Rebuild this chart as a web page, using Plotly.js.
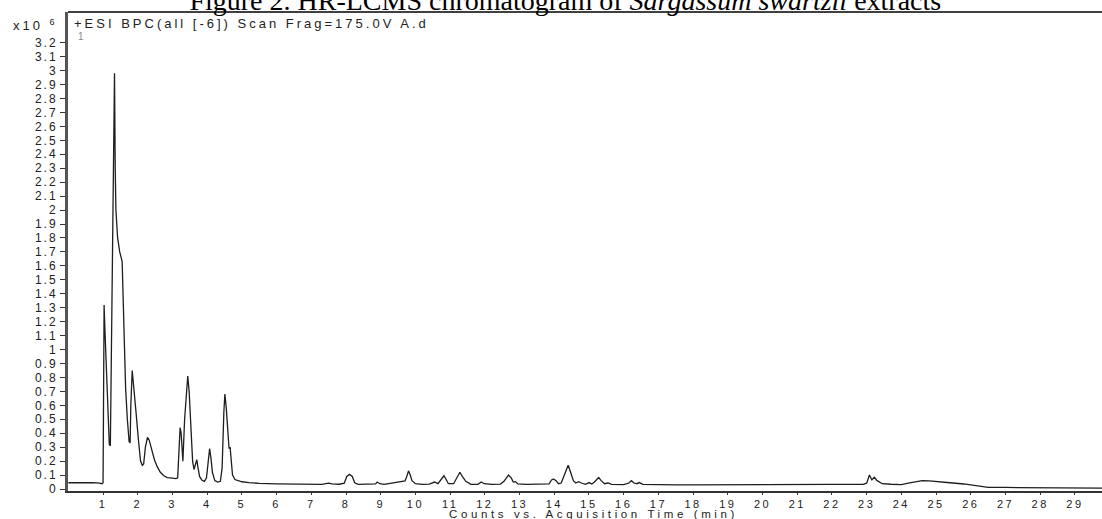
<!DOCTYPE html>
<html>
<head>
<meta charset="utf-8">
<script src="https://cdn.plot.ly/plotly-3.0.1.min.js"></script>
<style>
  html, body { margin: 0; padding: 0; background: #fff; }
  #chart { width: 1102px; height: 519px; }
  .xtick text { letter-spacing: 2.5px; }
  .ytick text { letter-spacing: 2px; }
  .annotation-text { letter-spacing: 3px; }
  .annotation[data-index="3"] .annotation-text { letter-spacing: 3.6px; }
</style>
</head>
<body>
<div id="chart"></div>
<script>
// Acquisition time (min)
const timeMin = [
  0.0, 0.3, 0.5, 0.7, 0.9, 0.97, 1.0, 1.03, 1.06, 1.12, 1.18, 1.21, 1.25, 1.30, 1.33, 1.35, 1.37, 1.42, 1.48, 1.55,
  1.60, 1.65, 1.70, 1.75, 1.78, 1.80, 1.84, 1.88, 1.95, 2.02, 2.08, 2.13, 2.17, 2.22, 2.28, 2.33, 2.40, 2.48, 2.56, 2.65,
  2.75, 2.85, 3.0, 3.1, 3.15, 3.19, 3.22, 3.25, 3.28, 3.30, 3.35, 3.40, 3.44, 3.48, 3.53, 3.58, 3.62, 3.65, 3.70, 3.73,
  3.78, 3.85, 3.92, 3.98, 4.03, 4.07, 4.11, 4.15, 4.22, 4.30, 4.38, 4.43, 4.48, 4.51, 4.55, 4.60, 4.63, 4.66, 4.69, 4.73,
  4.80, 4.9, 5.0, 5.2, 5.5, 6.0, 6.5, 7.0, 7.3, 7.5, 7.6, 7.8, 7.95, 8.02, 8.1, 8.18, 8.25, 8.35, 8.6, 8.85,
  8.9, 8.97, 9.1, 9.3, 9.5, 9.7, 9.75, 9.8, 9.85, 9.9, 10.0, 10.2, 10.4, 10.55, 10.65, 10.75, 10.82, 10.88, 10.95, 11.1,
  11.2, 11.28, 11.35, 11.45, 11.6, 11.8, 11.9, 11.98, 12.2, 12.45, 12.55, 12.68, 12.76, 12.82, 12.88, 12.95, 13.2, 13.6, 13.85, 13.92,
  13.98, 14.05, 14.12, 14.2, 14.3, 14.4, 14.47, 14.55, 14.62, 14.7, 14.78, 14.9, 15.0, 15.08, 15.15, 15.28, 15.35, 15.45, 15.55, 15.65,
  16.0, 16.15, 16.22, 16.3, 16.38, 16.45, 16.55, 17.0, 17.5, 18.0, 18.5, 19.0, 19.5, 19.8, 20.0, 20.5, 21.0, 21.5, 22.0, 22.5,
  22.9, 23.0, 23.08, 23.15, 23.22, 23.3, 23.45, 23.7, 24.0, 24.2, 24.4, 24.6, 24.8, 25.0, 25.4, 25.8, 26.2, 26.5, 27.0, 27.5,
  28.0, 28.15, 28.5, 29.0, 29.8
];
// Counts (x10^6)
const countsM = [
  0.045, 0.046, 0.044, 0.046, 0.042, 0.038, 0.045, 1.32, 1.10, 0.70, 0.32, 0.31, 1.20, 2.60, 2.98, 2.30, 2.00, 1.80, 1.70, 1.63,
  1.20, 0.72, 0.50, 0.34, 0.33, 0.60, 0.85, 0.72, 0.55, 0.35, 0.20, 0.17, 0.18, 0.30, 0.37, 0.35, 0.28, 0.21, 0.16, 0.12,
  0.095, 0.082, 0.078, 0.075, 0.080, 0.30, 0.44, 0.40, 0.24, 0.20, 0.50, 0.72, 0.81, 0.70, 0.45, 0.20, 0.14, 0.17, 0.21, 0.16,
  0.09, 0.063, 0.055, 0.08, 0.22, 0.29, 0.22, 0.12, 0.06, 0.05, 0.055, 0.15, 0.55, 0.68, 0.58, 0.40, 0.29, 0.30, 0.22, 0.10,
  0.068, 0.058, 0.052, 0.046, 0.040, 0.037, 0.035, 0.034, 0.033, 0.042, 0.037, 0.034, 0.042, 0.09, 0.105, 0.09, 0.045, 0.033, 0.033, 0.036,
  0.05, 0.038, 0.033, 0.043, 0.053, 0.058, 0.09, 0.13, 0.10, 0.06, 0.038, 0.033, 0.035, 0.05, 0.038, 0.07, 0.095, 0.07, 0.038, 0.038,
  0.08, 0.12, 0.09, 0.055, 0.033, 0.033, 0.05, 0.038, 0.033, 0.035, 0.055, 0.10, 0.08, 0.05, 0.053, 0.036, 0.033, 0.033, 0.036, 0.065,
  0.072, 0.06, 0.038, 0.043, 0.10, 0.17, 0.12, 0.06, 0.043, 0.053, 0.043, 0.033, 0.046, 0.036, 0.048, 0.082, 0.06, 0.038, 0.043, 0.033,
  0.031, 0.043, 0.06, 0.043, 0.038, 0.046, 0.033, 0.030, 0.029, 0.030, 0.031, 0.031, 0.032, 0.033, 0.032, 0.032, 0.033, 0.033, 0.033, 0.033,
  0.033, 0.042, 0.10, 0.065, 0.085, 0.06, 0.038, 0.034, 0.032, 0.042, 0.053, 0.06, 0.058, 0.052, 0.045, 0.036, 0.025, 0.012, 0.011, 0.011,
  0.010, 0.006, 0.006, 0.006, 0.006
];
// Tick labels
const yTickVals = [0, 0.1, 0.2, 0.3, 0.4, 0.5, 0.6, 0.7, 0.8, 0.9, 1, 1.1, 1.2, 1.3, 1.4, 1.5, 1.6, 1.7, 1.8, 1.9, 2, 2.1, 2.2, 2.3, 2.4, 2.5, 2.6, 2.7, 2.8, 2.9, 3, 3.1, 3.2];
const yTickText = ["0", "0.1", "0.2", "0.3", "0.4", "0.5", "0.6", "0.7", "0.8", "0.9", "1", "1.1", "1.2", "1.3", "1.4", "1.5", "1.6", "1.7", "1.8", "1.9", "2", "2.1", "2.2", "2.3", "2.4", "2.5", "2.6", "2.7", "2.8", "2.9", "3", "3.1", "3.2"];
const xTickVals = [1, 2, 3, 4, 5, 6, 7, 8, 9, 10, 11, 12, 13, 14, 15, 16, 17, 18, 19, 20, 21, 22, 23, 24, 25, 26, 27, 28, 29];
const xTickText = ["1", "2", "3", "4", "5", "6", "7", "8", "9", "10", "11", "12", "13", "14", "15", "16", "17", "18", "19", "20", "21", "22", "23", "24", "25", "26", "27", "28", "29"];

const chartTitle = "Figure 2. HR-LCMS chromatogram of <i>Sargassum swartzii</i> extracts";
const traceLabel = "+ESI BPC(all [-6]) Scan Frag=175.0V A.d";
const xTitle = "Counts vs. Acquisition Time (min)";

const sansFont = "Liberation Sans, Arial, sans-serif";

const trace = {
  x: timeMin,
  y: countsM,
  type: "scatter",
  mode: "lines",
  line: { color: "#1e1e1e", width: 1.3 },
  hoverinfo: "x+y",
  showlegend: false
};

const layout = {
  width: 1102,
  height: 519,
  margin: { l: 68, r: 0, t: 12, b: 28, pad: 0 },
  paper_bgcolor: "#ffffff",
  plot_bgcolor: "#ffffff",
  title: {
    text: chartTitle,
    font: { family: "Liberation Serif, Times New Roman, serif", size: 28, color: "#000" },
    x: 0.513, xanchor: "center",
    xref: "container",
    y: 1.0, yref: "container", yanchor: "middle"
  },
  xaxis: {
    range: [-0.01, 29.78],
    tickmode: "array",
    tickvals: xTickVals,
    ticktext: xTickText,
    ticks: "outside",
    ticklen: 2,
    tickwidth: 1,
    tickcolor: "#333",
    showline: true,
    linecolor: "#333",
    linewidth: 1.5,
    showgrid: false,
    zeroline: false,
    tickfont: { family: sansFont, size: 11, color: "#222" },
    automargin: false
  },
  yaxis: {
    range: [-0.0143, 3.42],
    tickmode: "array",
    tickvals: yTickVals,
    ticktext: yTickText,
    ticks: "outside",
    ticklen: 5,
    tickwidth: 1,
    tickcolor: "#333",
    showline: true,
    linecolor: "#555",
    linewidth: 3,
    showgrid: false,
    zeroline: false,
    tickfont: { family: sansFont, size: 12, color: "#222" },
    automargin: false
  },
  shapes: [
    { type: "line", xref: "paper", yref: "paper", x0: 0, x1: 1, y0: 1, y1: 1,
      line: { color: "#000", width: 1.5 } }
  ],
  annotations: [
    { text: traceLabel, xref: "paper", yref: "paper", x: 0.004, y: 0.977,
      xanchor: "left", yanchor: "middle", showarrow: false,
      font: { family: sansFont, size: 13, color: "#222" } },
    { text: "1", xref: "paper", yref: "paper", x: 0.0075, y: 0.948,
      xanchor: "left", yanchor: "middle", showarrow: false,
      font: { family: sansFont, size: 10, color: "#888" } },
    { text: "x10 <sup>6</sup>", xref: "paper", yref: "paper", x: -0.055, y: 0.973,
      xanchor: "left", yanchor: "middle", showarrow: false,
      font: { family: sansFont, size: 13, color: "#222" } },
    { text: xTitle, xref: "paper", yref: "paper", x: 0.508, y: -0.047,
      xanchor: "center", yanchor: "middle", showarrow: false,
      font: { family: sansFont, size: 11.5, color: "#222" } }
  ]
};

Plotly.newPlot("chart", [trace], layout, { displayModeBar: false, staticPlot: true });
</script>
</body>
</html>
